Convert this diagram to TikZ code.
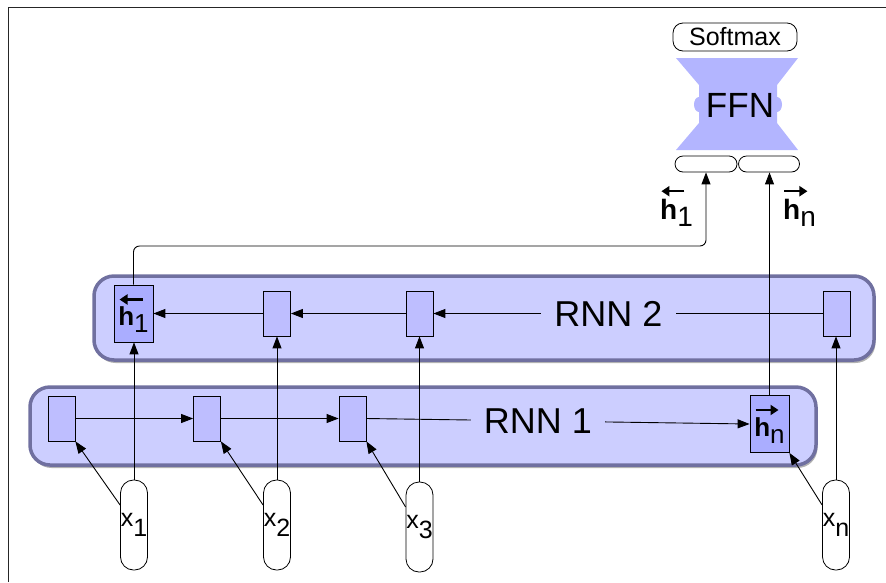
\documentclass[tikz,border=0pt]{standalone}
\usepackage{fontspec}
\setmainfont{Liberation Sans}
\usetikzlibrary{arrows.meta,shadows,calc}
\definecolor{boxfill}{RGB}{204,206,255}
\definecolor{boxline}{RGB}{112,112,160}
\definecolor{cellc}{RGB}{190,190,255}
\definecolor{hcellc}{RGB}{170,173,255}
\definecolor{ffnc}{RGB}{179,181,255}
\newcommand\arrL{\tikz[baseline=-4pt]\draw[line width=2.4pt,-{Triangle[length=8pt,width=10pt]}] (23pt,0pt)--(0pt,0pt);}
\newcommand\arrR{\tikz[baseline=-4pt]\draw[line width=2.4pt,-{Triangle[length=8pt,width=10pt]}] (0pt,0pt)--(23pt,0pt);}
\begin{document}
\begin{tikzpicture}[x=1pt,y=-1pt,
  rnnbox/.style={draw=boxline, line width=3.5pt, fill=boxfill, rounded corners=20pt,
     drop shadow={shadow xshift=1.5pt, shadow yshift=-3pt, opacity=0.3, fill=black}, inner sep=0pt},
  cell/.style={draw=black, line width=0.8pt, fill=cellc, minimum width=27pt, minimum height=45pt, inner sep=0pt},
  hcell/.style={cell, fill=hcellc, minimum width=39pt, minimum height=57pt, font=\fontsize{26}{22}\selectfont, align=left},
  pill/.style={draw=black, line width=0.8pt, fill=white, rounded corners=13pt, minimum width=27pt, minimum height=90pt, inner sep=0pt, font=\fontsize{25}{26}\selectfont},
  slot/.style={draw=black, line width=0.8pt, fill=white, rounded corners=8pt, minimum height=16pt, inner sep=0pt},
  conn/.style={line width=0.9pt, draw=black},
  arr/.style={conn, -{Triangle[length=12pt,width=9pt]}},
  lbl/.style={fill=boxfill, inner xsep=13pt, inner ysep=2pt, font=\fontsize{36}{38}\selectfont},
  hout/.style={inner sep=0pt, font=\fontsize{28}{24}\selectfont, align=left}
]
\useasboundingbox (0,0) rectangle (886,582);
\draw[line width=1.4pt, draw=black!85] (8.5,582) -- (8.5,7.5) -- (886,7.5);

% containers
\node[rnnbox, minimum width=780pt, minimum height=84pt] (rnn2) at (484,318) {};
\node[rnnbox, minimum width=786pt, minimum height=78pt] (rnn1) at (423,426) {};

% RNN 1 cells
\node[cell] (a1) at (61.5,418.5) {};
\node[cell] (a2) at (207,418.5) {};
\node[cell] (a3) at (352.5,418.5) {};
\node[hcell] (hn) at (769.5,424) {\arrR\\\textbf{h}\raisebox{-7pt}{n}};

% RNN 2 cells
\node[hcell] (h1) at (133.5,313.5) {\arrL\\\textbf{h}\raisebox{-7pt}{1}};
\node[cell] (b2) at (277,313.5) {};
\node[cell] (b3) at (419.5,313.5) {};
\node[cell] (b4) at (837,313.5) {};

% inputs
\node[pill] (x1) at (134,525) {x\raisebox{-10pt}{1}};
\node[pill] (x2) at (277,525) {x\raisebox{-10pt}{2}};
\node[pill] (x3) at (419.5,527) {x\raisebox{-10pt}{3}};
\node[pill] (xn) at (836,525) {x\raisebox{-10pt}{n}};

% FFN block
\fill[ffnc] (676,58) -- (798,58) -- (777,85) -- (777,97)
   arc[start angle=90, end angle=-90, x radius=5pt, y radius=7.5pt] -- (777,123) -- (798,150) -- (676,150) -- (699,123) -- (699,112)
   arc[start angle=270, end angle=90, x radius=5pt, y radius=7.5pt] -- (699,85) -- cycle;
\node[inner sep=0pt, font=\fontsize{35}{36}\selectfont] (ffn) at (740,105) {FFN};
\node[draw=black, line width=0.8pt, fill=white, rounded corners=10pt, minimum width=124pt, minimum height=28pt, inner sep=0pt, font=\fontsize{25}{26}\selectfont] (soft) at (735,37) {Softmax};
\node[slot, minimum width=62pt] (sL) at (706,164) {};
\node[slot, minimum width=61pt] (sR) at (769,164) {};

% RNN 1 connections
\draw[arr] (a1.east) -- (a2.west);
\draw[arr] (a2.east) -- (a3.west);
\draw[arr] (a3.east) -- (hn.west);
% RNN 2 connections
\draw[arr] (b4.west) -- (b3.east);
\draw[arr] (b3.west) -- (b2.east);
\draw[arr] (b2.west) -- (h1.east);

% inputs to RNN 2
\draw[arr] (x1.north) -- (x1.north |- h1.south);
\draw[arr] (x2.north) -- (x2.north |- b2.south);
\draw[arr] (x3.north) -- (x3.north |- b3.south);
\draw[arr] (xn.north) -- (xn.north |- b4.south);
% inputs to RNN 1
\draw[arr] ($(x1.west)+(0,-20)$) -- (a1.south east);
\draw[arr] ($(x2.west)+(0,-20)$) -- (a2.south east);
\draw[arr] ($(x3.west)+(0,-20)$) -- (a3.south east);
\draw[arr] ($(xn.west)+(0,-20)$) -- (hn.south east);

% to FFN
\draw[arr] (hn.north) -- (hn.north |- sR.south);
\draw[arr, rounded corners=6pt] (h1.north) -- (h1.north |- 0,246) -- (sL.south |- 0,246) -- (sL.south);

% labels
\node[lbl] (l2) at (608.5,313.5) {RNN 2};
\node[lbl] (l1) at (538,421) {RNN 1};
\node[hout, anchor=north west] (ho1) at (660,186) {\arrL\\\textbf{h}\raisebox{-7pt}{1}};
\node[hout, anchor=north west] (hon) at (783,186) {\arrR\\\textbf{h}\raisebox{-7pt}{n}};
\end{tikzpicture}
\end{document}
